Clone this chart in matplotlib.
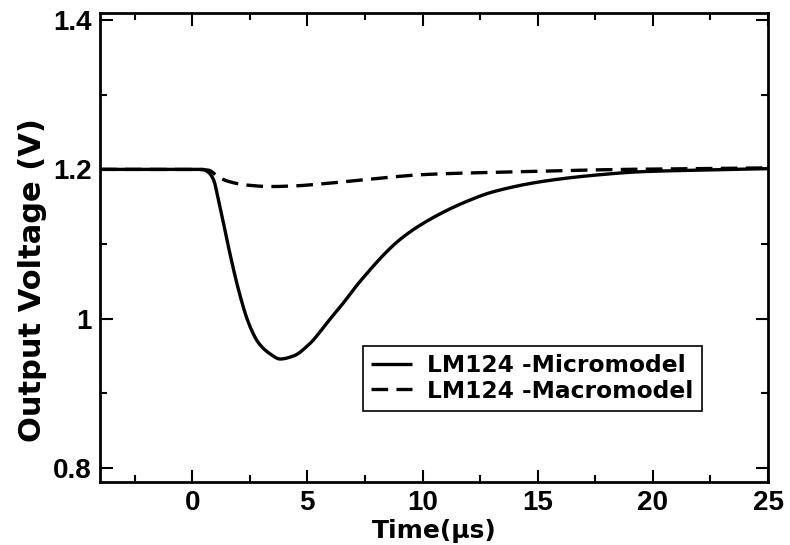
import matplotlib
matplotlib.use("Agg")
import matplotlib.pyplot as plt
from matplotlib.ticker import MultipleLocator, FuncFormatter
import numpy as np

plt.rcParams['font.family'] = ['DejaVu Sans']
plt.rcParams['font.weight'] = 'bold'

# Transient response of the op-amp output (time in microseconds, volts)
t_micro = [-4.0, 0.0, 0.45, 0.71, 0.93, 1.14, 1.36, 1.57, 2.01, 2.37, 2.62, 2.87, 3.38, 3.82,
           4.39, 5.12, 5.84, 6.56, 7.29, 9.02, 10.32, 11.91, 13.07, 15.24,
           17.4, 19.57, 22.0, 25.0]
v_micro = [1.2, 1.2, 1.2, 1.196, 1.186, 1.159, 1.128, 1.097, 1.039, 1.001, 0.982, 0.968, 0.953, 0.946,
           0.950, 0.967, 0.994, 1.021, 1.050, 1.106, 1.133, 1.157, 1.170, 1.184,
           1.192, 1.197, 1.199, 1.201]

t_macro = [-4.0, 0.0, 0.7, 1.13, 1.56, 2.37, 3.38, 4.54, 5.41, 7.72, 10.03, 11.76,
           13.05, 15.5, 18.85, 22.0, 25.0]
v_macro = [1.2, 1.2, 1.199, 1.190, 1.184, 1.179, 1.177, 1.178, 1.180, 1.187, 1.193, 1.195,
           1.196, 1.198, 1.200, 1.201, 1.202]

series_labels = ["LM124 -Micromodel", "LM124 -Macromodel"]
x_ticks = [0, 5, 10, 15, 20, 25]
y_ticks = [0.8, 1.0, 1.2, 1.4]


def smooth(x, y, n=600):
    x = np.asarray(x, float)
    y = np.asarray(y, float)
    try:
        from scipy.interpolate import PchipInterpolator
    except Exception:
        return x, y
    xs = np.linspace(x[0], x[-1], n)
    return xs, PchipInterpolator(x, y)(xs)


fig = plt.figure(figsize=(7.9, 5.45), dpi=100)
ax = fig.add_axes([0.1266, 0.1156, 0.8456, 0.8605])

xs, ys = smooth(t_micro, v_micro)
ax.plot(xs, ys, color='black', lw=2.4, solid_capstyle='butt', label=series_labels[0])
xs, ys = smooth(t_macro, v_macro)
ax.plot(xs, ys, color='black', lw=2.4, dashes=(5, 2.5), label=series_labels[1])

ax.set_xlim(-4, 25)
ax.set_ylim(0.7813, 1.4094)
ax.set_xticks(x_ticks)
ax.set_yticks(y_ticks)
ax.xaxis.set_minor_locator(MultipleLocator(2.5))
ax.yaxis.set_minor_locator(MultipleLocator(0.1))
ax.yaxis.set_major_formatter(FuncFormatter(lambda v, p: f"{v:g}"))

ax.tick_params(which='both', direction='in', top=True, right=True, width=1.5)
ax.tick_params(which='major', length=9, pad=6)
ax.tick_params(which='minor', length=5)
for lab in ax.get_xticklabels() + ax.get_yticklabels():
    lab.set_fontfamily('Liberation Sans')
    lab.set_fontweight('bold')
    lab.set_fontsize(20)
for sp in ax.spines.values():
    sp.set_linewidth(2.0)

ax.set_xlabel("Time(\u03bcs)", fontsize=18, fontweight='bold')
ax.set_ylabel("Output Voltage (V)", fontsize=22, fontweight='bold')
ax.xaxis.set_label_coords(0.5, -0.079)
ax.yaxis.set_label_coords(-0.079, 0.43)

leg = ax.legend(loc='lower left', bbox_to_anchor=(0.394, 0.152), borderaxespad=0,
                frameon=True, fancybox=False, framealpha=1,
                handlelength=1.76, handletextpad=0.64, borderpad=0.35,
                labelspacing=0.1, prop={'weight': 'bold', 'size': 16.8})
leg.get_frame().set_edgecolor('black')
leg.get_frame().set_linewidth(1.2)

fig.savefig("out.png", dpi=100)
